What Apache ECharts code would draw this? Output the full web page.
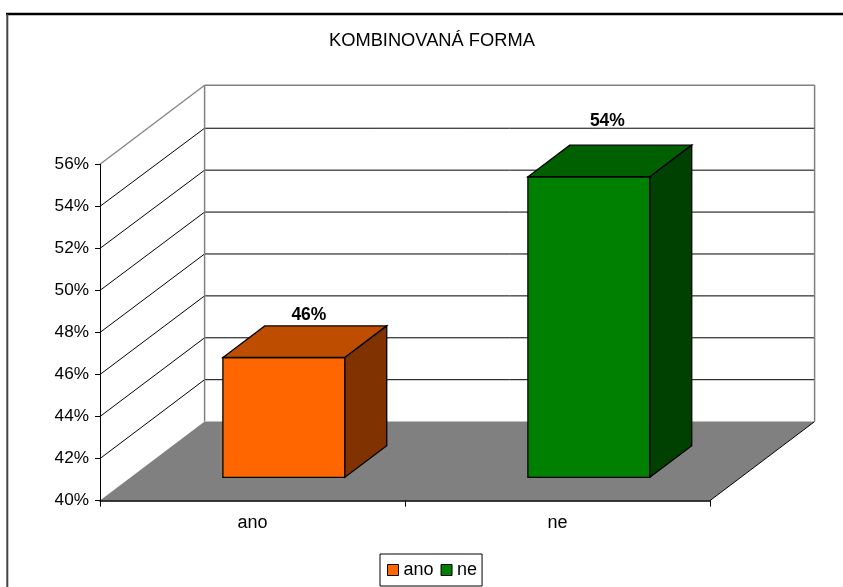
<!DOCTYPE html>
<html><head><meta charset="utf-8">
<style>html,body{margin:0;padding:0;background:#fff}#c{width:843px;height:587px}</style>
<script src="https://cdn.jsdelivr.net/npm/echarts@6/dist/echarts.min.js"></script>
</head><body><div id="c"></div>
<script>
const chartTitle = 'KOMBINOVANÁ FORMA';
const categories = ['ano', 'ne'];
const anoValues = [45.7];
const neValues = [54.3];
const dataLabels = ['46%', '54%'];
const tickValues = [40, 42, 44, 46, 48, 50, 52, 54, 56];

const FONT = '"Liberation Sans", Arial, sans-serif';
const DEPTH_X = 104.6, DEPTH_Y = 79;
const BAR_OFFSET_X = 31.4, BAR_OFFSET_Y = 23.3, BAR_DEPTH = 0.4, BAR_WIDTH = 0.4;
const BACK_SCALE = 0.9969;
const LABEL_SHIFT = [[25, -11], [18.5, -24]];
const GRAY = '#808080';

const chart = echarts.init(document.getElementById('c'), null, {renderer: 'canvas'});

function poly(points, fill, stroke, lw) {
  return {type: 'polygon', shape: {points}, style: {fill, stroke: stroke || null, lineWidth: lw || 1}};
}
function seg(x1, y1, x2, y2, stroke, lw) {
  return {type: 'line', shape: {x1, y1, x2, y2}, style: {stroke, lineWidth: lw || 1, fill: null}};
}
function renderFloor(params, api) {
  const g = params.coordSys, b = g.y + g.height, r = g.x + g.width;
  return {type: 'group', children: [
    poly([[g.x, b], [r, b], [r + DEPTH_X, b - DEPTH_Y], [g.x + DEPTH_X, b - DEPTH_Y]], GRAY),
    seg(r, b, r + DEPTH_X, b - DEPTH_Y, '#000', 1),
    seg(g.x + DEPTH_X, g.y - DEPTH_Y, g.x + DEPTH_X, b - DEPTH_Y, GRAY, 1.5),
    seg(r + DEPTH_X, g.y - DEPTH_Y, r + DEPTH_X, b - DEPTH_Y, GRAY, 1.5)
  ]};
}
function renderGrid(params, api) {
  const g = params.coordSys, v = api.value(1), y = api.coord([0, v])[1], r = g.x + g.width;
  if (v === tickValues[0]) return {type: 'group', children: []};
  const top = v === tickValues[tickValues.length - 1];
  const col = top ? GRAY : '#000', lw = top ? 1.5 : 1;
  const floorY = g.y + g.height - DEPTH_Y;
  const backY = top ? y - DEPTH_Y : floorY - (g.y + g.height - y) * BACK_SCALE;
  return {type: 'group', children: [
    seg(g.x, y, g.x + DEPTH_X, backY, col, top ? 1.2 : 1),
    seg(g.x + DEPTH_X, backY, r + DEPTH_X, backY, col, lw)
  ]};
}
function renderBar(palette) {
  return function (params, api) {
    const idx = api.value(0), val = api.value(1);
    const band = api.size([1, 0])[0];
    const c = api.coord([idx, val]);
    const base = api.coord([idx, tickValues[0]])[1];
    const w = band * BAR_WIDTH;
    const dx = DEPTH_X * BAR_DEPTH, dy = DEPTH_Y * BAR_DEPTH;
    const l = c[0] - w / 2 + BAR_OFFSET_X, rr = l + w, t = c[1] - BAR_OFFSET_Y, b = base - BAR_OFFSET_Y;
    const s = LABEL_SHIFT[idx];
    return {type: 'group', children: [
      poly([[l, t], [rr, t], [rr, b], [l, b]], palette[0], '#000', 1.3),
      poly([[l, t], [rr, t], [rr + dx, t - dy], [l + dx, t - dy]], palette[1], '#000', 1.3),
      poly([[rr, t], [rr + dx, t - dy], [rr + dx, b - dy], [rr, b]], palette[2], '#000', 1.3),
      {type: 'text', style: {
        text: dataLabels[idx], x: l + w / 2 + s[0], y: t - dy + s[1],
        align: 'center', verticalAlign: 'middle',
        font: 'bold 17.5px ' + FONT, fill: '#000'
      }}
    ]};
  };
}

chart.setOption({
  animation: false,
  backgroundColor: '#fff',
  title: {
    text: chartTitle, left: 329, top: 32, padding: 0,
    textStyle: {fontFamily: FONT, fontSize: 18.3, lineHeight: 18, fontWeight: 'normal', color: '#000'}
  },
  legend: {
    data: categories, left: 380, top: 554, padding: [7, 5, 7, 7],
    orient: 'horizontal', icon: 'rect', itemWidth: 11, itemHeight: 11, itemGap: 7,
    borderColor: '#000', borderWidth: 1, backgroundColor: '#fff',
    itemStyle: {borderColor: '#000', borderWidth: 1},
    textStyle: {fontFamily: FONT, fontSize: 18, color: '#000'}
  },
  grid: {left: 100, right: 133, top: 164.3, bottom: 86.4, containLabel: false},
  xAxis: {
    type: 'category', data: categories, z: 10,
    axisLine: {lineStyle: {color: '#000', width: 1.5}},
    axisTick: {show: true, length: 6, lineStyle: {color: '#000'}},
    axisLabel: {margin: 13, fontFamily: FONT, fontSize: 18, color: '#000'},
    splitLine: {show: false}
  },
  yAxis: {
    type: 'value', min: 40, max: 56, interval: 2, z: 10,
    axisLine: {show: true, lineStyle: {color: '#000'}},
    axisTick: {show: true, length: 5, lineStyle: {color: '#000'}},
    axisLabel: {margin: 11, padding: [4, 0, 0, 0], fontFamily: FONT, fontSize: 17.2, color: '#000', formatter: '{value}%'},
    splitLine: {show: false}
  },
  graphic: [
    {type: 'line', silent: true, z: 20, shape: {x1: 6, y1: 14, x2: 843, y2: 14}, style: {stroke: '#000', lineWidth: 2.4}},
    {type: 'line', silent: true, z: 20, shape: {x1: 7.3, y1: 14, x2: 7.3, y2: 587}, style: {stroke: '#444', lineWidth: 2}}
  ],
  series: [
    {type: 'custom', name: 'grid', z: 1, silent: true, renderItem: renderGrid,
     encode: {x: 0, y: 1}, data: tickValues.map(v => [0, v])},
    {type: 'custom', name: 'floor', z: 2, silent: true, renderItem: renderFloor,
     encode: {x: 0, y: 1}, data: [[0, tickValues[0]]]},
    {type: 'custom', name: categories[0], z: 3, silent: true, renderItem: renderBar(['#FF6600', '#BF4D00', '#803300']),
     itemStyle: {color: '#FF6600'}, encode: {x: 0, y: 1}, data: anoValues.map(v => [0, v])},
    {type: 'custom', name: categories[1], z: 3, silent: true, renderItem: renderBar(['#008000', '#006000', '#004000']),
     itemStyle: {color: '#008000'}, encode: {x: 0, y: 1}, data: neValues.map(v => [1, v])}
  ]
});
</script></body></html>
